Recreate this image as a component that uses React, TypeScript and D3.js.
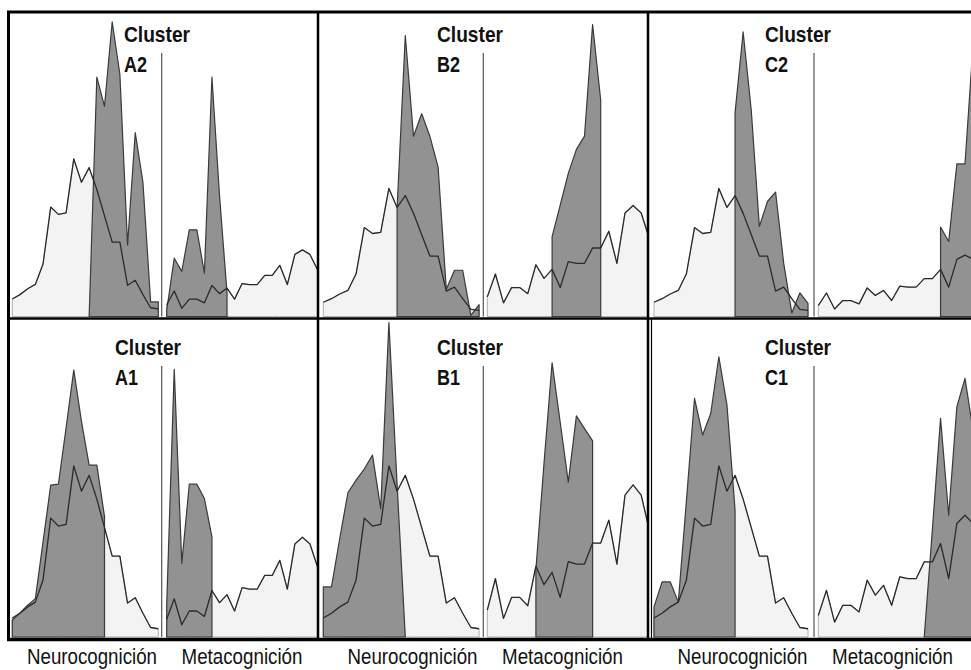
import React from 'react';
import * as d3 from 'd3';

// Whole-sample distributions (light areas), same shape in every panel
const totalNeuro = [6, 7.5, 9.5, 11, 18, 37.5, 35, 35.5, 54, 46, 51, 43.5, 34.5, 25.5, 25.5, 10.7, 12.4, 7.5, 3, 2.6];
const totalMeta = [6.8, 14.7, 4.7, 10, 10, 7.9, 17.9, 13.2, 16.3, 10, 19, 18.4, 18.4, 23.7, 23.7, 29.5, 18.4, 35.8, 38.4, 35.8, 27];

// Clusters, in panel order (top row then bottom row)
const clusterNames = ['A2', 'B2', 'C2', 'A1', 'B1', 'C1'];
const neuroMax = [104, 128, 128, 100, 100, 100];
const metaMax = [175, 105, 190, 122, 80, 100];

const clusterNeuroStart = [10, 9, 10, 0, 0, 0];
const clusterNeuro = [
  [0, 82, 72, 101, 83, 24.5, 63, 46, 5, 5],
  [45.5, 118.5, 76, 85.5, 76, 63, 11.5, 19.5, 19.5, 0.5, 5],
  [86, 120, 87, 38, 48.5, 52.5, 22.5, 1.5, 10, 5.5],
  [5.3, 7.6, 10, 12.1, 30, 47.9, 48.2, 66, 84.2, 68, 54.2, 54.2, 38],
  [15.8, 15.8, 31, 45.5, 49.5, 53, 57.4, 40.5, 99.2, 48, 0],
  [9.5, 17.4, 17.4, 11, 43, 75.3, 63.7, 70.5, 88.4, 73.2, 40],
];

const clusterMetaStart = [0, 8, 15, 0, 6, 13];
const clusterMeta = [
  [3.5, 33.6, 26, 50, 50, 25, 138, 70, 13.5],
  [27.6, 38.5, 49.5, 57.8, 62.4, 101, 74.9],
  [56, 47, 95.5, 95.5, 171],
  [12.2, 103, 28.3, 58.8, 58.8, 53.3, 38.5],
  [17, 43.8, 69.2, 54.2, 39.1, 55.8, 52.6, 49.5],
  [0, 34, 69, 38.4, 72.6, 81.6, 65, 55],
];

const axisLabels = ['Neurocognición', 'Metacognición'];

// Layout
const W = 971;
const H = 670;
const columns = [
  { left: 8, right: 318, nx0: 12.3, nx1: 158.3, divider: 161.7, mx0: 166.7, mx1: 317.5, neuroLabel: 92, metaLabel: 242 },
  { left: 318, right: 648, nx0: 323.3, nx1: 479.1, divider: 483.3, mx0: 487.3, mx1: 649.3, neuroLabel: 412.5, metaLabel: 562.5 },
  { left: 648, right: 995, nx0: 654, nx1: 808, divider: 814, mx0: 818.3, mx1: 981.3, neuroLabel: 742.5, metaLabel: 892.5 },
];
const rows = [
  { top: 13, base: 316.5, dividerTop: 53, label1: 42, label2: 72 },
  { top: 320, base: 637, dividerTop: 366, label1: 355, label2: 385 },
];
const labelX = [124, 437, 765, 115, 437, 765];

const LIGHT = '#f3f3f3';
const DARK = '#929292';
const INK = '#2a2a2a';
const narrow = "'Liberation Sans Narrow', 'Arial Narrow', 'Liberation Sans', Arial, sans-serif";

type HalfProps = {
  total: number[];
  start: number;
  values: number[];
  x: d3.ScaleLinear<number, number>;
  y: d3.ScaleLinear<number, number>;
};

const Half = ({ total, start, values, x, y }: HalfProps) => {
  const idx = total.map((_, i) => i);
  const totalArea = d3.area<number>().x(i => x(i)).y0(y(0)).y1(i => y(total[i]));
  const totalLine = d3.line<number>().x(i => x(i)).y(i => y(total[i]));
  const clusterArea = d3
    .area<number>()
    .x((_, j) => x(start + j))
    .y0(y(0))
    .y1(v => y(v));
  return (
    <g>
      <path d={totalArea(idx) || ''} fill={LIGHT} stroke="#b0b0b0" strokeWidth={1} />
      <path d={clusterArea(values) || ''} fill={DARK} stroke="#3a3a3a" strokeWidth={1.2} strokeLinejoin="round" />
      <path d={totalLine(idx) || ''} fill="none" stroke={INK} strokeWidth={1.3} strokeLinejoin="round" />
    </g>
  );
};

const App = () => {
  return (
    <svg
      width={W}
      height={H}
      style={{ position: 'absolute', left: 0, top: 0, display: 'block', background: '#fff' }}
    >
      <defs>
        {clusterNames.map((_, p) => {
          const col = columns[p % 3];
          const row = rows[Math.floor(p / 3)];
          return (
            <clipPath id={`clip-${p}`} key={p}>
              <rect x={col.left + 1} y={row.top} width={col.right - col.left - 2} height={row.base - row.top + 1} />
            </clipPath>
          );
        })}
      </defs>

      {clusterNames.map((name, p) => {
        const col = columns[p % 3];
        const row = rows[Math.floor(p / 3)];
        const xN = d3.scaleLinear().domain([0, totalNeuro.length - 1]).range([col.nx0, col.nx1]);
        const xM = d3.scaleLinear().domain([0, totalMeta.length - 1]).range([col.mx0, col.mx1]);
        const yN = d3.scaleLinear().domain([0, neuroMax[p]]).range([row.base, row.top]);
        const yM = d3.scaleLinear().domain([0, metaMax[p]]).range([row.base, row.top]);
        const lx = labelX[p];
        return (
          <g key={name} clipPath={`url(#clip-${p})`}>
            <Half total={totalNeuro} start={clusterNeuroStart[p]} values={clusterNeuro[p]} x={xN} y={yN} />
            <Half total={totalMeta} start={clusterMetaStart[p]} values={clusterMeta[p]} x={xM} y={yM} />
            {/* label boxes */}
            <rect x={lx - 3} y={row.top} width={100} height={row.label1 + 5 - row.top} fill="#fff" />
            <rect x={lx - 3} y={row.label1 + 5} width={31} height={row.label2 - row.label1 + 2} fill="#fff" />
            <line x1={col.divider} x2={col.divider} y1={row.dividerTop} y2={row.base} stroke="#555" strokeWidth={1.2} />
            <text x={lx} y={row.label1} fontFamily={narrow} fontWeight="bold" fontSize={22} fill="#111" textLength={66} lengthAdjust="spacingAndGlyphs">
              Cluster
            </text>
            <text x={lx} y={row.label2} fontFamily={narrow} fontWeight="bold" fontSize={22} fill="#111" textLength={23} lengthAdjust="spacingAndGlyphs">
              {name}
            </text>
          </g>
        );
      })}

      {/* frame */}
      <g stroke="#000" fill="none">
        <line x1={7} x2={W} y1={12} y2={12} strokeWidth={3} />
        <line x1={7} x2={W} y1={318.5} y2={318.5} strokeWidth={2.5} />
        <line x1={7} x2={W} y1={639.5} y2={639.5} strokeWidth={3.5} />
        <line x1={8.5} x2={8.5} y1={11} y2={641} strokeWidth={3} />
        <line x1={318} x2={318} y1={11} y2={641} strokeWidth={2.5} />
        <line x1={648} x2={648} y1={11} y2={641} strokeWidth={2.5} />
        <line x1={651.5} x2={651.5} y1={319} y2={639} strokeWidth={1.2} />
      </g>

      {/* axis labels */}
      {columns.map((col, c) => (
        <g key={c} fontFamily={narrow} fontSize={22} fill="#111" textAnchor="middle">
          <text x={col.neuroLabel} y={664} textLength={130} lengthAdjust="spacingAndGlyphs">
            {axisLabels[0]}
          </text>
          <text x={col.metaLabel} y={664} textLength={121} lengthAdjust="spacingAndGlyphs">
            {axisLabels[1]}
          </text>
        </g>
      ))}
    </svg>
  );
};

export default App;
